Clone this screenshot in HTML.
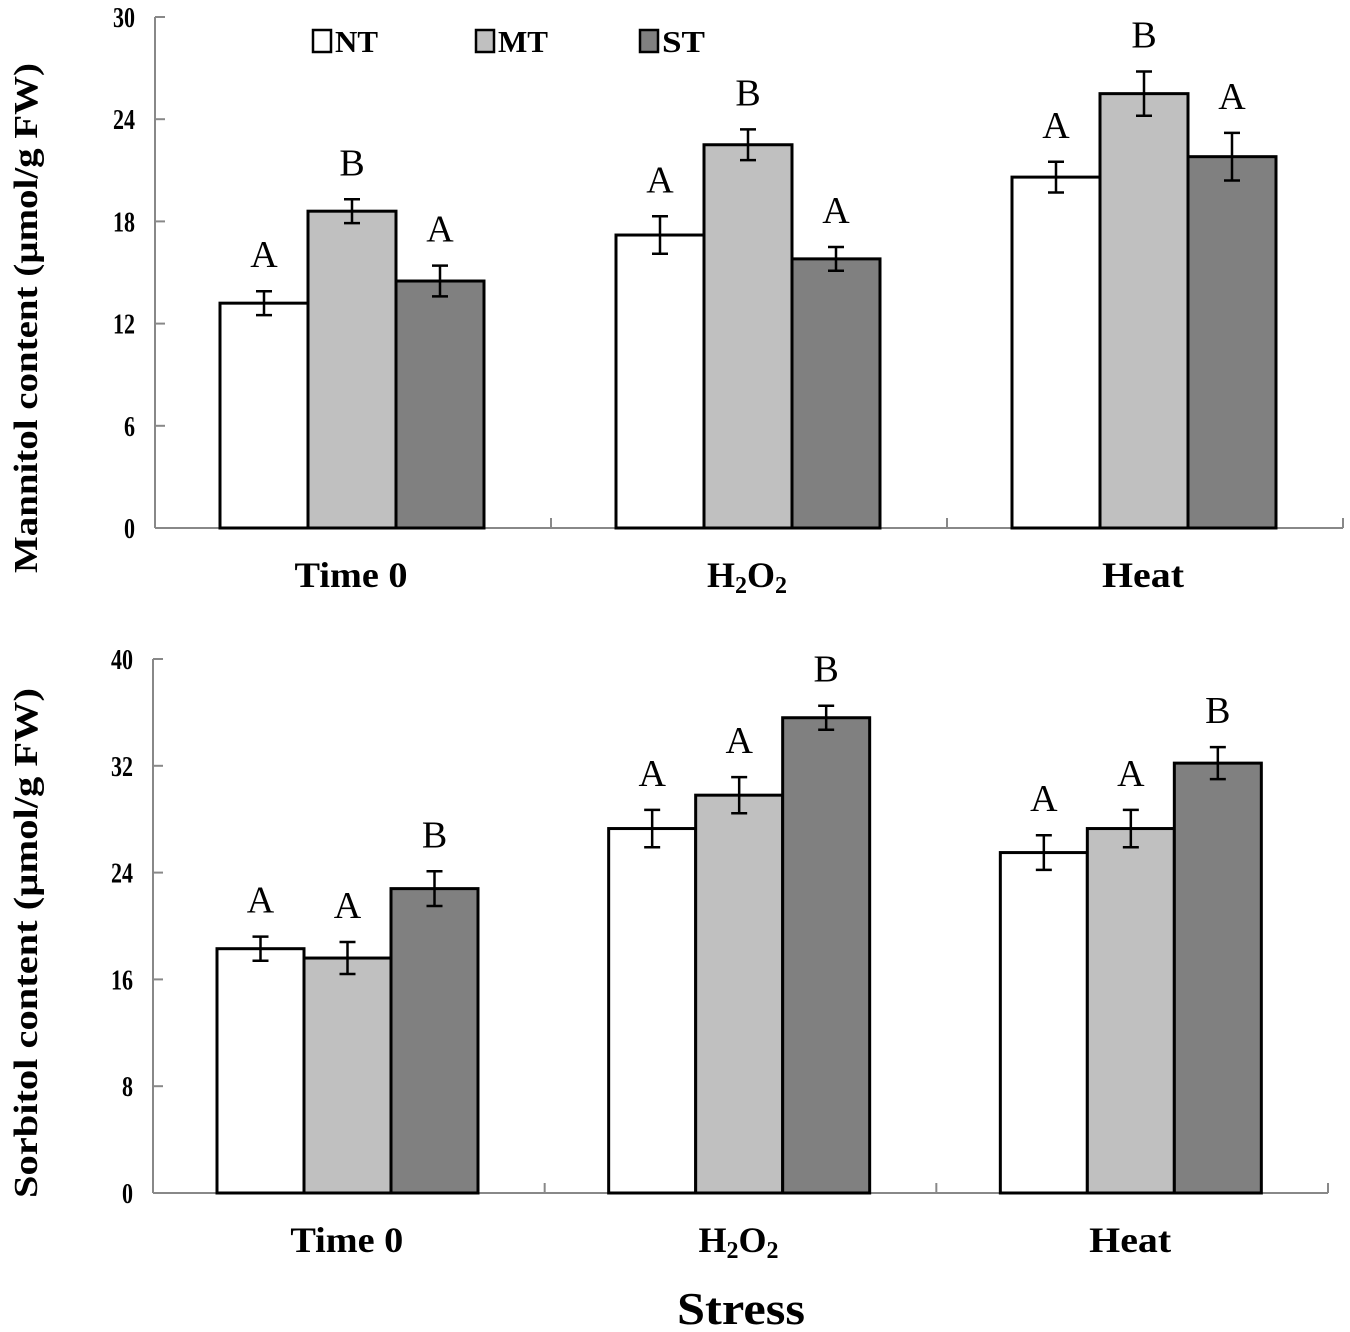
<!DOCTYPE html>
<html><head><meta charset="utf-8"><style>
html,body{margin:0;padding:0;background:#fff;}
svg{display:block;font-family:"Liberation Serif","Times New Roman",serif;font-weight:bold;}
</style></head><body>
<svg id="chart" width="1350" height="1332" viewBox="0 0 1350 1332" xmlns="http://www.w3.org/2000/svg"></svg>
<script>
const categories = ["Time 0", "H2O2", "Heat"];
const seriesNames = ["NT", "MT", "ST"];
const mannitolNT = [13.2, 17.2, 20.6];
const mannitolMT = [18.6, 22.5, 25.5];
const mannitolST = [14.5, 15.8, 21.8];
const mannitolErrNT = [0.7, 1.1, 0.9];
const mannitolErrMT = [0.7, 0.9, 1.3];
const mannitolErrST = [0.9, 0.7, 1.4];
const mannitolLetters = [["A","B","A"],["A","B","A"],["A","B","A"]];
const mannitolTicks = [0, 6, 12, 18, 24, 30];
const sorbitolNT = [18.3, 27.3, 25.5];
const sorbitolMT = [17.6, 29.8, 27.3];
const sorbitolST = [22.8, 35.6, 32.2];
const sorbitolErrNT = [0.9, 1.4, 1.3];
const sorbitolErrMT = [1.2, 1.35, 1.4];
const sorbitolErrST = [1.3, 0.9, 1.2];
const sorbitolLetters = [["A","A","B"],["A","A","B"],["A","A","B"]];
const sorbitolTicks = [0, 8, 16, 24, 32, 40];

const NS = "http://www.w3.org/2000/svg";
const svg = document.getElementById("chart");
const fills = ["#ffffff", "#c0c0c0", "#808080"];
function mk(tag, attrs, parent) {
  const e = document.createElementNS(NS, tag);
  for (const k in attrs) e.setAttribute(k, attrs[k]);
  (parent || svg).appendChild(e);
  return e;
}
function panel(cfg) {
  const g = mk("g", {});
  
  
  const yMax = cfg.ticks[cfg.ticks.length - 1];
  const y = v => cfg.y0 - (v / yMax) * (cfg.y0 - cfg.yTop);
  const gw = (cfg.x1 - cfg.x0) / categories.length;
  const x = (i, s) => cfg.x0 + i * gw + cfg.pad + s * cfg.bw;
  const ya = mk("line", {x1: cfg.x0, y1: cfg.yTop, x2: cfg.x0, y2: cfg.y0, stroke: "#888", "stroke-width": 2}, g);
  
  
  const xa = mk("line", {x1: cfg.x0, y1: cfg.y0, x2: cfg.x1, y2: cfg.y0, stroke: "#888", "stroke-width": 2}, g);
  
  
  cfg.ticks.forEach(t => {
    mk("line", {x1: cfg.x0, y1: y(t), x2: cfg.x0 + 10, y2: y(t), stroke: "#888", "stroke-width": 2}, g);
    const s = String(t);
    const tx = mk("text", {x: cfg.x0 - 20, y: y(t) + 10, "text-anchor": "end", "font-size": 28,
      textLength: s.length * 11, lengthAdjust: "spacingAndGlyphs"}, g);
    tx.textContent = s;
    
    
  });
  for (let i = 1; i <= categories.length; i++) {
    mk("line", {x1: cfg.x0 + i * gw, y1: cfg.y0, x2: cfg.x0 + i * gw, y2: cfg.y0 - 10, stroke: "#888", "stroke-width": 2}, g);
  }
  const vals = [cfg.nt, cfg.mt, cfg.st], errs = [cfg.ent, cfg.emt, cfg.est];
  categories.forEach((c, i) => {
    for (let s = 0; s < 3; s++) {
      const v = vals[s][i], e = errs[s][i];
      const r = mk("rect", {x: x(i, s), y: y(v), width: cfg.bw, height: cfg.y0 - y(v), fill: fills[s], stroke: "#000", "stroke-width": 3}, g);
      
      
      const cx = x(i, s) + cfg.bw / 2;
      const eb = mk("path", {d: `M${cx},${y(v + e)}V${y(v - e)}M${cx - 8},${y(v + e)}H${cx + 8}M${cx - 8},${y(v - e)}H${cx + 8}`, stroke: "#000", "stroke-width": 2.5, fill: "none"}, g);
      
      
      const lt = mk("text", {x: cx, y: y(v + e) - 24, "text-anchor": "middle", "font-size": 38, "font-weight": "normal"}, g);
      lt.textContent = cfg.letters[i][s];
      
      
    }
    const cx0 = cfg.x0 + i * gw + gw / 2 - 2;
    let cl;
    if (c === "H2O2") {
      cl = mk("text", {x: cx0, y: cfg.y0 + 59, "text-anchor": "middle", "font-size": 36}, g);
      cl.innerHTML = 'H<tspan font-size="24" dy="6">2</tspan><tspan dy="-6">O</tspan><tspan font-size="24" dy="6">2</tspan>';
    } else {
      const w = c === "Heat" ? 82 : 113;
      cl = mk("text", {x: cx0, y: cfg.y0 + 59, "text-anchor": "middle", "font-size": 36, textLength: w, lengthAdjust: "spacingAndGlyphs"}, g);
      cl.textContent = c;
    }
    
    
  });
  const t = mk("text", {transform: `translate(${cfg.titleX},${cfg.titleY}) rotate(-90)`, "text-anchor": "middle", "font-size": 34,
    textLength: 510, lengthAdjust: "spacingAndGlyphs"}, g);
  t.textContent = cfg.title;
  
  
}
panel({name: "mannitol-panel", x0: 155, x1: 1343, yTop: 17, y0: 528, pad: 65, bw: 88, ticks: mannitolTicks,
  nt: mannitolNT, mt: mannitolMT, st: mannitolST, ent: mannitolErrNT, emt: mannitolErrMT, est: mannitolErrST,
  letters: mannitolLetters, title: "Mannitol content (µmol/g FW)", titleX: 37, titleY: 318});
panel({name: "sorbitol-panel", x0: 153, x1: 1328, yTop: 659, y0: 1193, pad: 64, bw: 87, ticks: sorbitolTicks,
  nt: sorbitolNT, mt: sorbitolMT, st: sorbitolST, ent: sorbitolErrNT, emt: sorbitolErrMT, est: sorbitolErrST,
  letters: sorbitolLetters, title: "Sorbitol content (µmol/g FW)", titleX: 37, titleY: 943});
const lg = mk("g", {});


const legX = [313, 476, 640];
seriesNames.forEach((n, i) => {
  const r = mk("rect", {x: legX[i], y: 30, width: 18, height: 22, fill: fills[i], stroke: "#000", "stroke-width": 2.5}, lg);
  
  
  const t = mk("text", {x: legX[i] + 22, y: 52, "font-size": 31, textLength: n === "MT" ? 50 : 43, lengthAdjust: "spacingAndGlyphs"}, lg);
  t.textContent = n;
  
  
});
const xt = mk("text", {x: 741, y: 1324, "text-anchor": "middle", "font-size": 46, textLength: 128, lengthAdjust: "spacingAndGlyphs"});
xt.textContent = "Stress";


</script>
</body></html>
